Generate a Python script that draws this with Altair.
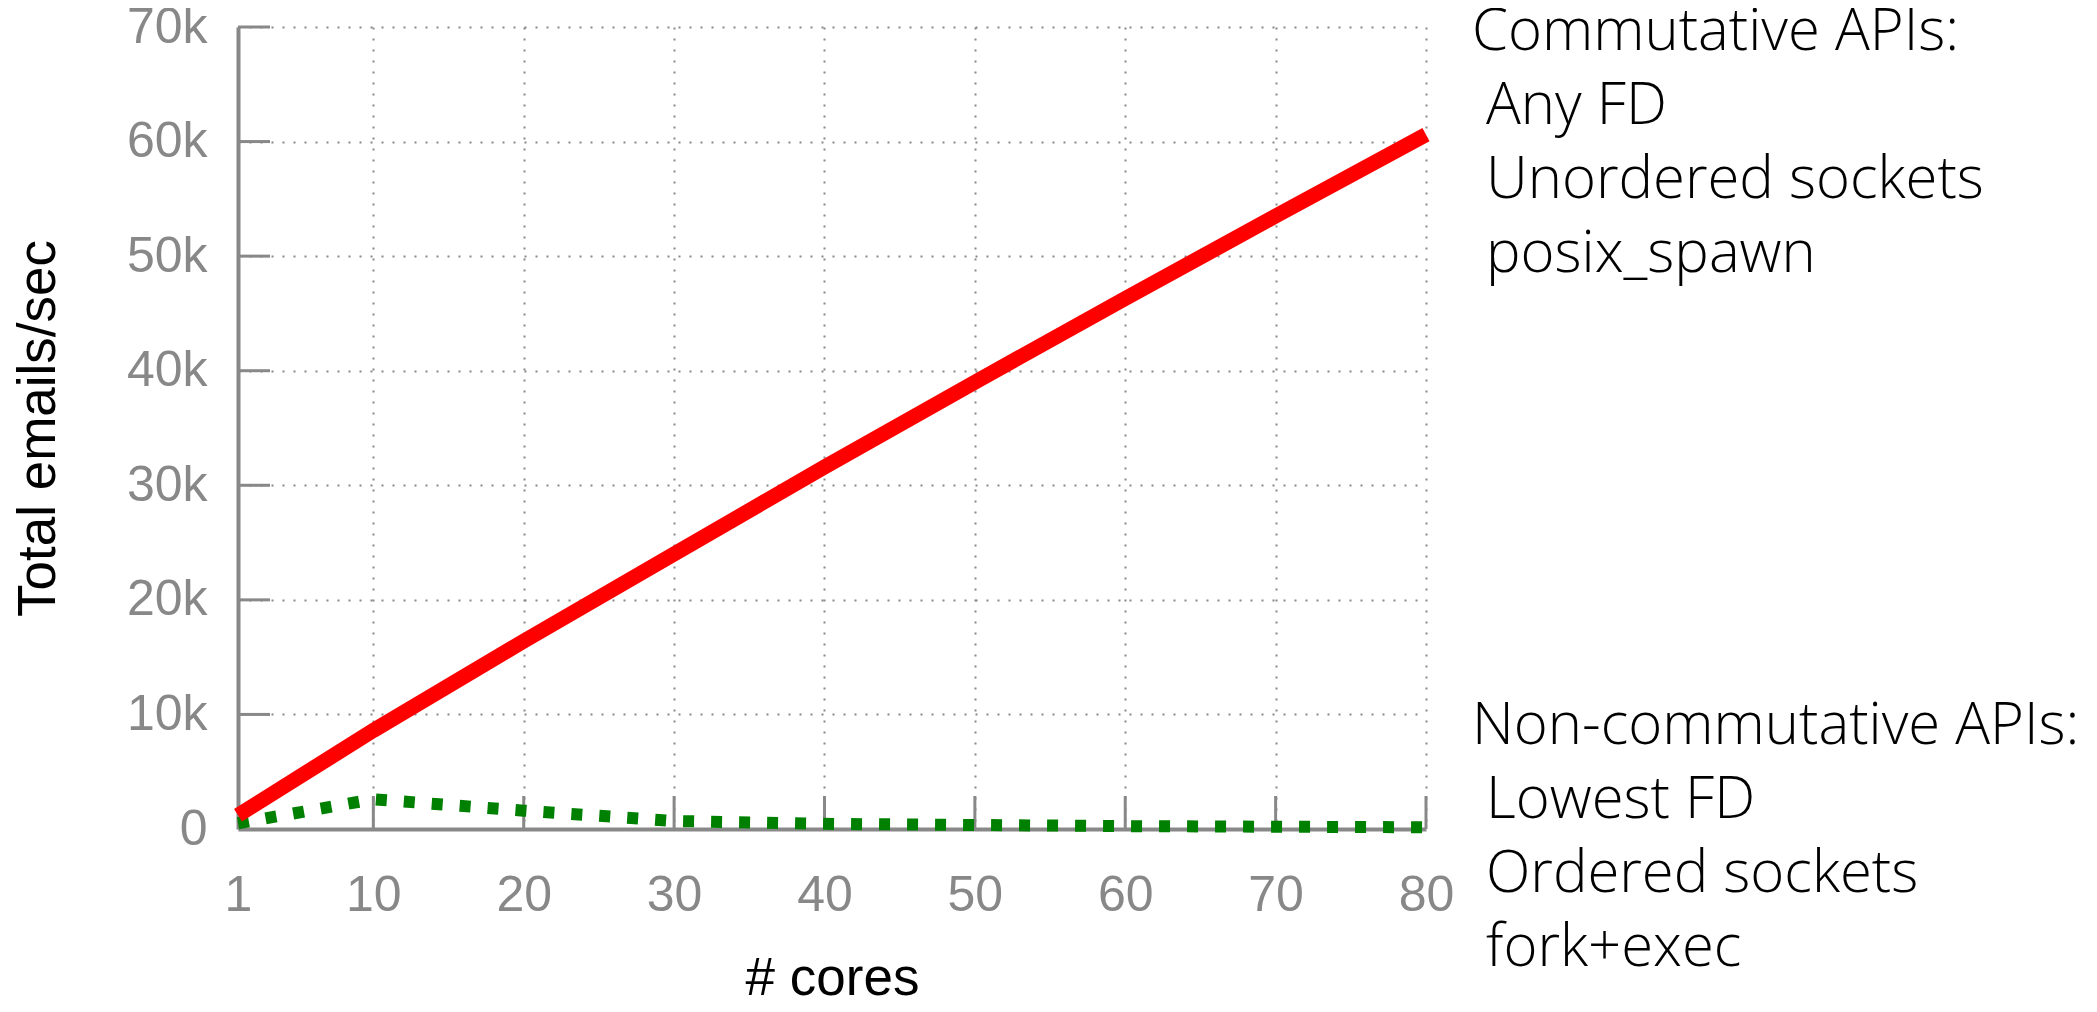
import altair as alt
import pandas as pd

# ---- data ----
cores = [1, 10, 20, 30, 40, 50, 60, 70, 80]
commutative = [1200, 8600, 16400, 24000, 31600, 39000, 46300, 53500, 60600]
non_commutative = [500, 2600, 1600, 700, 450, 350, 250, 200, 150]

x_ticks = [1, 10, 20, 30, 40, 50, 60, 70, 80]
y_ticks = [0, 10000, 20000, 30000, 40000, 50000, 60000, 70000]

x_title = "# cores"
y_title = "Total emails/sec"

comm_head = "Commutative APIs:"
comm_items = ["Any FD", "Unordered sockets", "posix_spawn"]
noncomm_head = "Non-commutative APIs:"
noncomm_items = ["Lowest FD", "Ordered sockets", "fork+exec"]

# ---- layout ----
W, H = 1188, 802
GRAY = "#888888"
TICK_LEN = 33

x_enc = alt.X(
    "cores:Q",
    scale=alt.Scale(domain=[1, 80], nice=False, zero=False),
    axis=alt.Axis(
        values=x_ticks, title=x_title, format="d",
        ticks=False, tickSize=0, labelPadding=41, labelFlush=False, labelOverlap=False,
        labelFont="Liberation Sans", labelFontSize=50, labelColor=GRAY,
        titleFont="Liberation Sans", titleFontSize=53, titleColor="black", titleFontWeight="normal",
        titleBaseline="alphabetic", titleY=165,
        domainColor=GRAY, domainWidth=4,
        grid=True, gridColor=GRAY, gridDash=[2, 9], gridWidth=2, gridOpacity=1,
    ),
)
y_enc = alt.Y(
    "value:Q",
    scale=alt.Scale(domain=[0, 70000], nice=False),
    axis=alt.Axis(
        values=y_ticks, title=y_title,
        labelExpr="datum.value == 0 ? '0' : (datum.value / 1000) + 'k'",
        ticks=False, tickSize=0, labelPadding=31, labelFlush=False, labelOverlap=False,
        labelFont="Liberation Sans", labelFontSize=50, labelColor=GRAY,
        titleFont="Liberation Sans", titleFontSize=53, titleColor="black", titleFontWeight="normal",
        titleAngle=-90, titleBaseline="alphabetic", titleAlign="center", titleX=-184, titleY=H / 2,
        domainColor=GRAY, domainWidth=4,
        grid=True, gridColor=GRAY, gridDash=[2, 9], gridWidth=2, gridOpacity=1,
    ),
)

red_df = pd.DataFrame({"cores": cores, "value": commutative})
green_df = pd.DataFrame({"cores": cores, "value": non_commutative})

green = alt.Chart(green_df).mark_line(
    color="#008000", strokeWidth=12, strokeDash=[11, 17], strokeCap="butt"
).encode(x=x_enc, y=y_enc)

red = alt.Chart(red_df).mark_line(
    color="#ff0000", strokeWidth=15, strokeCap="butt"
).encode(x=x_enc, y=y_enc)

xticks = alt.Chart(pd.DataFrame({"cores": x_ticks[1:]})).mark_rule(
    color=GRAY, strokeWidth=3
).encode(x=x_enc, y=alt.value(H), y2=alt.value(H - TICK_LEN))

yticks = alt.Chart(pd.DataFrame({"value": y_ticks[1:]})).mark_rule(
    color=GRAY, strokeWidth=3
).encode(y=y_enc, x=alt.value(0), x2=alt.value(TICK_LEN - 1))

TX_HEAD = W + 46
TX_ITEM = W + 60
LINE_H = 74
txt_style = dict(align="left", baseline="alphabetic", font="Open Sans",
                 fontWeight=300, fontSize=58, lineHeight=LINE_H, color="black")

def text_layer(text, x, y):
    return alt.Chart(alt.Data(values=[{}])).mark_text(text=text, **txt_style).encode(
        x=alt.value(x), y=alt.value(y)
    )

texts = [
    text_layer(comm_head, TX_HEAD, 23),
    text_layer(comm_items, TX_ITEM, 23 + LINE_H),
    text_layer(noncomm_head, TX_HEAD, 717),
    text_layer(noncomm_items, TX_ITEM, 717 + LINE_H),
]

chart = alt.layer(xticks, yticks, green, red, *texts).properties(
    width=W, height=H,
    autosize=alt.AutoSizeParams(type="none"),
    padding={"left": 230, "top": 19, "right": 663, "bottom": 175},
).configure_view(stroke=None)

chart.save("out.html", embed_options={"renderer": "svg", "actions": False})
